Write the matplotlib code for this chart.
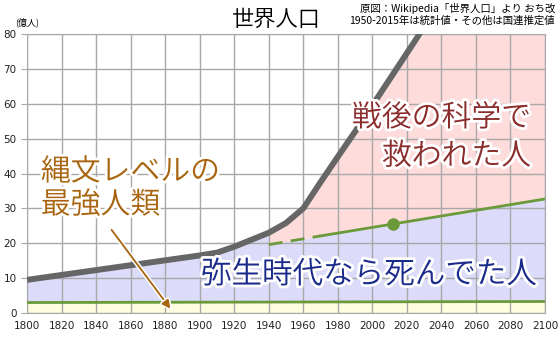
import numpy as np
import matplotlib
matplotlib.use('Agg')
import matplotlib.pyplot as plt
import matplotlib.patheffects as pe

plt.rcParams['font.family'] = ['Noto Sans CJK JP', 'DejaVu Sans']

# world population (100 million people)
pop_years = [1800, 1850, 1900, 1910, 1920, 1940, 1950, 1960, 1970, 1980, 1990, 2000, 2010, 2020, 2030]
pop_values = [9.5, 13.0, 16.5, 17.3, 19.0, 23.0, 25.8, 30.0, 37.5, 44.8, 52.0, 59.5, 67.0, 74.5, 82.0]

# "yayoi level" line
yayoi_years = [1940, 1970, 2100]
yayoi_values = [19.6, 22.1, 32.7]
marker_year = 2012
marker_value = 25.6

# "jomon level" line
jomon_years = [1800, 2100]
jomon_values = [3.0, 3.3]

xticks = list(range(1800, 2101, 20))
yticks = list(range(0, 81, 10))

fig = plt.figure(figsize=(5.6, 3.4), dpi=100)
ax = fig.add_axes([27 / 560, 27 / 340, 518 / 560, 279 / 340])

# fills
xs = np.array(sorted(set(pop_years + yayoi_years + jomon_years)), dtype=float)
xs = xs[(xs >= 1800) & (xs <= 2100)]
bottom = np.interp(xs, jomon_years, jomon_values)
gray = np.minimum(np.interp(xs, pop_years, pop_values), 80)
green = np.interp(xs, yayoi_years, yayoi_values)
upper_blue = np.where(xs <= 1940, gray, green)

ax.fill_between(xs, 0, bottom, color='#fffde0', lw=0, zorder=1)
ax.fill_between(xs, bottom, upper_blue, color='#dcdcfa', lw=0, zorder=1)
ax.fill_between(xs, green, gray, where=xs >= 1940, color='#ffdcdc', lw=0, zorder=1)

# lines
ax.plot(pop_years, pop_values, color='#666666', lw=4.3, solid_capstyle='butt', zorder=4)
ax.plot(yayoi_years[:2], yayoi_values[:2], color='#6a9a3a', lw=2, ls=(0, (5, 3)), zorder=4)
ax.plot(yayoi_years[1:], yayoi_values[1:], color='#6a9a3a', lw=2, zorder=4)
ax.plot([marker_year], [marker_value], 'o', color='#6a9a3a', ms=8, zorder=5)
ax.plot(jomon_years, jomon_values, color='#6a9a3a', lw=2, zorder=4)

ax.set_xlim(1800, 2100)
ax.set_ylim(0, 80)
ax.set_xticks(xticks)
ax.set_yticks(yticks)
ax.grid(True, color='#a8a8a8', lw=1, zorder=2)
ax.set_axisbelow(False)
for s in ax.spines.values():
    s.set_color('#a8a8a8')
ax.tick_params(axis='x', length=0, labelsize=7.5, labelcolor='#222222', pad=6)
ax.tick_params(axis='y', length=4, color='#a8a8a8', labelsize=7.5, labelcolor='#222222')
for lbl in ax.get_xticklabels() + ax.get_yticklabels():
    lbl.set_family('DejaVu Sans')

# texts
outline = [pe.withStroke(linewidth=4, foreground='white')]
fig.text(276 / 560, 1 - 20 / 340, '世界人口', ha='center', va='center', fontsize=16, fontweight=350)
fig.text(555 / 560, 1 - 9 / 340, '原図：Wikipedia「世界人口」より おち改', ha='right', va='center', fontsize=7.5)
fig.text(555 / 560, 1 - 21 / 340, '1950-2015年は統計値・その他は国連推定値', ha='right', va='center', fontsize=7.5)
fig.text(15 / 560, 1 - 22 / 340, '(億人)', ha='left', va='center', fontsize=6.5)

big = dict(fontsize=21.5, fontweight=350, path_effects=outline, zorder=6)
ax.text(2092, 56, '戦後の科学で', ha='right', va='center', color='#8b2c2c', **big)
ax.text(2092, 45, '救われた人', ha='right', va='center', color='#8b2c2c', **big)
ax.text(1808, 40.5, '縄文レベルの', ha='left', va='center', color='#a8640e', **big)
ax.text(1808, 31, '最強人類', ha='left', va='center', color='#a8640e', **big)
ax.text(2095, 11, '弥生時代なら死んでた人', ha='right', va='center', color='#1a2a8a',
        fontsize=22, fontweight=350, path_effects=outline, zorder=6)

ax.annotate('', xy=(1884, 0.6), xytext=(1848, 24.5),
            arrowprops=dict(arrowstyle='-|>', color='#a8640e', lw=1.3, mutation_scale=12,
                            path_effects=[pe.withStroke(linewidth=3.5, foreground='white')]),
            zorder=6)

fig.savefig('out.png', dpi=100)
